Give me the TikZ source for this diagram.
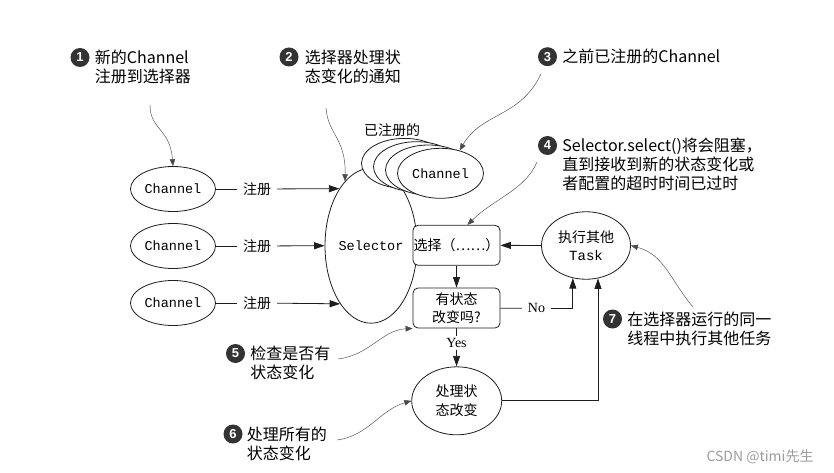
\documentclass[tikz,border=0pt]{standalone}
\usepackage{fontspec}
\setmainfont{Liberation Serif}
\setsansfont{Liberation Sans}
\setmonofont{Liberation Mono}
\newfontfamily\cjk{Noto Sans CJK SC}
\usetikzlibrary{arrows.meta,positioning,shapes.geometric}
\definecolor{ink}{HTML}{1E1E1E}
\definecolor{bullet}{HTML}{333333}
\definecolor{leadgray}{HTML}{4A4A4A}
\definecolor{wmark}{HTML}{9C9C9C}
\newcommand{\mono}[1]{{\ttfamily #1}}

\begin{document}
\begin{tikzpicture}[x=1pt, y=-1pt,
  chan/.style={draw=ink, line width=0.8pt, ellipse, fill=white, minimum width=85pt,
               minimum height=45pt, inner sep=0pt, font=\ttfamily\fontsize{13.5}{16}\selectfont},
  oval/.style={draw=ink, line width=0.8pt, ellipse, fill=white, minimum width=90pt,
               minimum height=68pt, inner sep=0pt, align=center,
               font=\cjk\fontsize{14}{18.5}\selectfont},
  stepbox/.style={draw=ink, line width=0.8pt, fill=white, rounded corners=5pt,
                  minimum width=87pt, minimum height=40pt, inner sep=0pt, align=center,
                  font=\cjk\fontsize{14}{18.5}\selectfont},
  tag/.style={inner xsep=6pt, inner ysep=2pt, font=\cjk\fontsize{14}{16}\selectfont},
  yn/.style={inner xsep=6pt, inner ysep=2pt, font=\fontsize{14}{16}\selectfont},
  num/.style={circle, fill=bullet, text=white, minimum size=19pt, inner sep=0pt,
              font=\sffamily\bfseries\fontsize{13}{13}\selectfont},
  note/.style={inner sep=0pt, align=left, yshift=7.5pt,
               font=\cjk\fontsize{16}{19}\selectfont},
  link/.style={draw=ink, line width=0.8pt},
  arrow/.style={link, -{Triangle[length=10.5pt,width=7pt]}},
  pointer/.style={-{Triangle[length=7pt,width=5.5pt]}, draw=leadgray, line width=0.45pt}
]
  \useasboundingbox (0,0) rectangle (834,473);

  % channels and the selector
  \node[chan] (ch1) at (173,189) {Channel};
  \node[chan] (ch2) at (173,246) {Channel};
  \node[chan] (ch3) at (173,303) {Channel};
  \node[draw=ink, line width=0.8pt, ellipse, minimum width=92pt, minimum height=155pt,
        inner sep=0pt, font=\ttfamily\fontsize{13.5}{16}\selectfont] (sel) at (371,245.7) {Selector};

  % registered channels, back to front
  \foreach \k in {3,2,1}
    \node[chan, minimum width=86pt, minimum height=50pt] (old\k) at (440.5-12*\k,173.3-3.3*\k) {};
  \node[chan, minimum width=86pt, minimum height=50pt] (old0) at (440.5,173.3) {Channel};
  \node[tag] (oldtag) at (392,130) {已注册的};

  % select loop
  \node[stepbox] (pick) at (456.5,245.3) {选择（……）};
  \node[stepbox] (check) at (456.5,308) {有状态\\改变吗?};
  \node[oval] (work) at (456.7,400.8) {处理状\\态改变};
  \node[oval, minimum width=89pt, minimum height=67.5pt] (task) at (586,245.5)
       {执行其他\\\mono{Task}};

  \node[tag] (r1) at (257,189) {注册};
  \node[tag] (r2) at (257,246) {注册};
  \node[tag] (r3) at (257,303) {注册};
  \node[yn] (yes) at (456.5,343) {Yes};
  \node[yn] (no) at (536.5,308.3) {No};

  \draw[link] (ch1) -- (r1);
  \draw[link] (ch2) -- (r2);
  \draw[link] (ch3) -- (r3);
  \draw[arrow] (r1) -- (sel.119);
  \draw[arrow] (r2) -- (sel.180);
  \draw[arrow] (r3) -- (sel.242);
  \draw[arrow] (task) -- (pick);
  \draw[arrow] (pick) -- (check);
  \draw[link] (check) -- (yes);
  \draw[arrow] (yes) -- (work);
  \draw[link] (check) -- (no);
  \draw[arrow] (no) -| (task.248.5);
  \draw[arrow] (work.east) -| (task.290);

  % callouts
  \node[num] (n1) at (80,57.5) {1};
  \node[note, right=5pt of n1.east, anchor=north west] (t1) {新的Channel\\注册到选择器};
  \node[num] (n2) at (289,57) {2};
  \node[note, right=6pt of n2.east, anchor=north west] (t2) {选择器处理状\\态变化的通知};
  \node[num] (n3) at (547.5,56.7) {3};
  \node[note, right=5pt of n3.east, anchor=north west] (t3) {之前已注册的Channel};
  \node[num] (n4) at (547.5,145.5) {4};
  \node[note, right=5pt of n4.east, anchor=north west] (t4)
       {Selector.select()将会阻塞，\\直到接收到新的状态变化或\\者配置的超时时间已过时};
  \node[num] (n5) at (235.5,353.5) {5};
  \node[note, right=5pt of n5.east, anchor=north west] (t5) {检查是否有\\状态变化};
  \node[num] (n6) at (233,434) {6};
  \node[note, right=4pt of n6.east, anchor=north west] (t6) {处理所有的\\状态变化};
  \node[num] (n7) at (612.5,319) {7};
  \node[note, right=5pt of n7.east, anchor=north west] (t7) {在选择器运行的同一\\线程中执行其他任务};

  \coordinate (p1) at (150,105);
  \coordinate (p2) at (326,108);
  \coordinate (p3) at (541,74);
  \coordinate (p4) at (537,162);
  \coordinate (p5) at (338,359);
  \coordinate (p6) at (337,440);
  \coordinate (p7) at (693,307);
  \draw[pointer] (p1) .. controls (150,130) and (170,128) .. (ch1.north);
  \draw[pointer] (p2) .. controls (328,135) and (346,138) .. (sel.112);
  \draw[pointer] (p3) .. controls (520,118) and (482,112) .. (old0.50);
  \draw[pointer] (p4) .. controls (525,190) and (495,198) .. (pick.62);
  \draw[pointer] (p5) .. controls (370,355) and (382,330) .. (check.south west);
  \draw[pointer] (p6) .. controls (368,436) and (380,410) .. (work.west);
  \draw[pointer] (p7) .. controls (670,280) and (665,255) .. (task.east);

  \node[font=\cjk\fontsize{14}{14}\selectfont, text=wmark] (wm) at (760,457) {CSDN @timi先生};
\end{tikzpicture}
\end{document}
